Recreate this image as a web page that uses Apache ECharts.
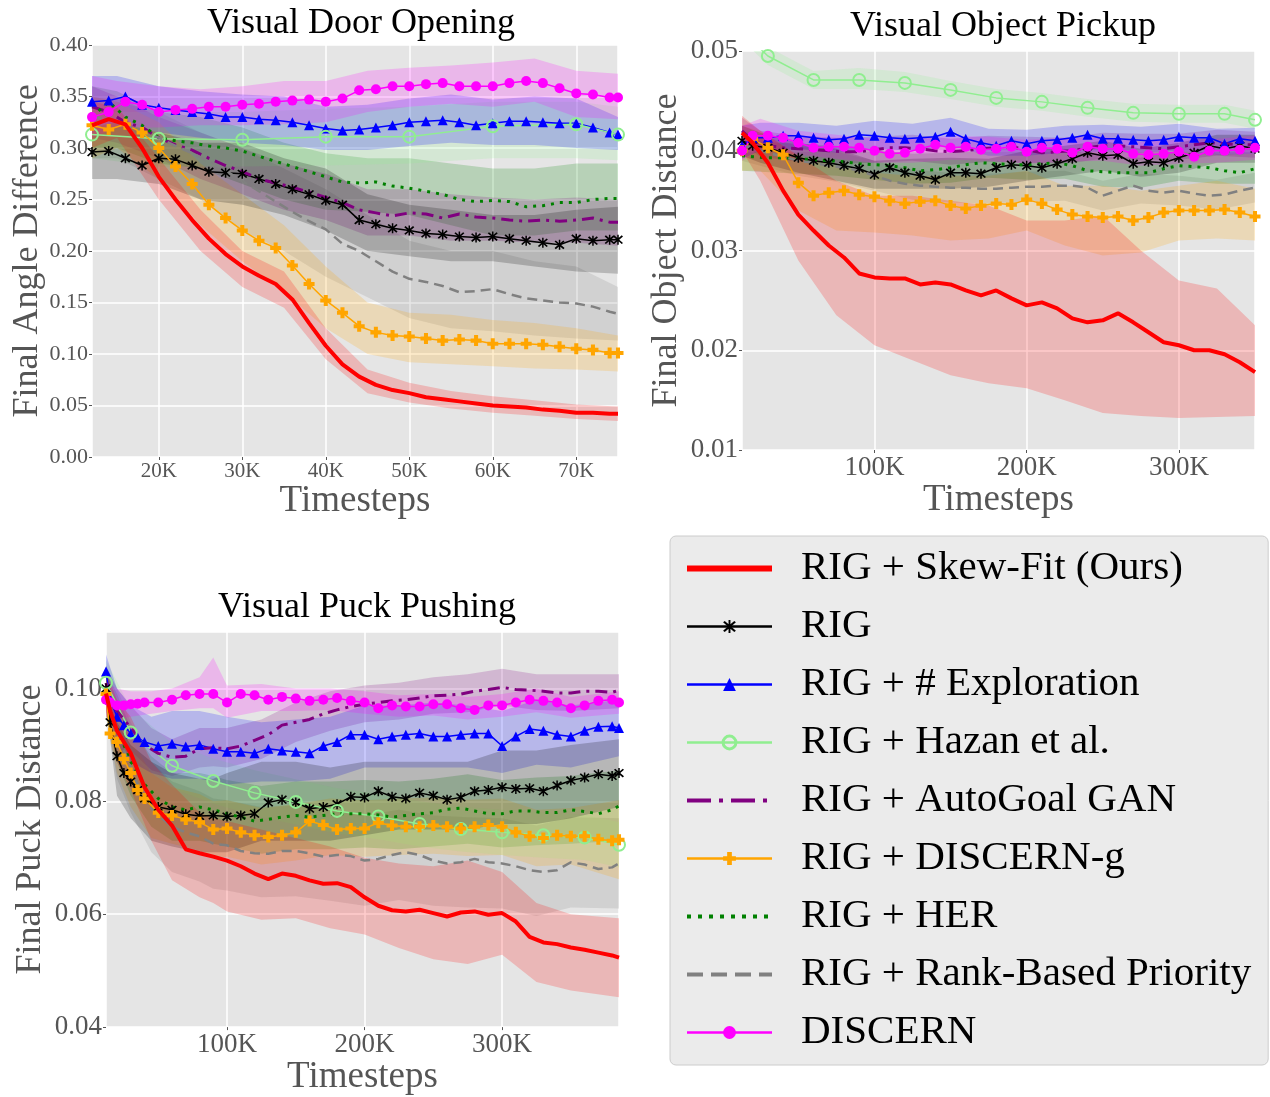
<!DOCTYPE html>
<html><head><meta charset="utf-8">
<script src="https://cdn.jsdelivr.net/npm/echarts@6/dist/echarts.min.js"></script>
<style>html,body{margin:0;padding:0;background:#fff}#c{width:1270px;height:1097px}</style>
</head><body><div id="c"></div><script>
// ---------- Visual Door Opening (x in thousands of timesteps) ----------
const doorX = [12,14,16,18,20,22,24,26,28,30,32,34,36,38,40,42,44,46,48,50,52,54,56,58,60,62,64,66,68,70,72,74,75];
const doorSkew = [0.322,0.328,0.323,0.300,0.272,0.250,0.230,0.212,0.197,0.185,0.176,0.168,0.153,0.130,0.108,0.090,0.078,0.070,0.065,0.062,0.058,0.056,0.054,0.052,0.050,0.049,0.048,0.046,0.045,0.043,0.043,0.042,0.042];
const doorRig = [0.296,0.297,0.290,0.283,0.290,0.289,0.283,0.277,0.276,0.275,0.270,0.265,0.260,0.255,0.249,0.245,0.230,0.226,0.222,0.220,0.217,0.216,0.214,0.213,0.214,0.212,0.210,0.208,0.206,0.212,0.210,0.211,0.211];
const doorExpl = [0.345,0.346,0.350,0.342,0.339,0.337,0.335,0.333,0.330,0.330,0.328,0.327,0.325,0.322,0.319,0.317,0.318,0.320,0.322,0.325,0.326,0.327,0.325,0.322,0.324,0.326,0.326,0.325,0.324,0.324,0.320,0.315,0.313];
const doorGan = [0.340,0.335,0.325,0.320,0.310,0.303,0.298,0.290,0.283,0.277,0.270,0.266,0.262,0.257,0.252,0.247,0.240,0.237,0.234,0.237,0.236,0.232,0.236,0.233,0.232,0.230,0.229,0.230,0.229,0.230,0.232,0.228,0.228];
const doorDg = [0.322,0.318,0.323,0.315,0.300,0.282,0.265,0.245,0.232,0.220,0.210,0.203,0.186,0.168,0.152,0.140,0.127,0.121,0.118,0.117,0.115,0.113,0.114,0.113,0.110,0.110,0.110,0.109,0.107,0.105,0.104,0.101,0.101];
const doorHer = [0.330,0.345,0.330,0.322,0.310,0.307,0.305,0.302,0.300,0.297,0.292,0.287,0.282,0.277,0.272,0.267,0.266,0.267,0.263,0.261,0.258,0.255,0.250,0.248,0.249,0.248,0.243,0.244,0.247,0.247,0.250,0.251,0.251];
const doorRank = [0.330,0.328,0.322,0.316,0.310,0.302,0.295,0.287,0.278,0.268,0.258,0.248,0.238,0.229,0.221,0.207,0.200,0.190,0.180,0.173,0.170,0.166,0.160,0.161,0.163,0.158,0.154,0.152,0.150,0.149,0.146,0.141,0.139];
const doorDiscern = [0.330,0.335,0.345,0.342,0.335,0.337,0.338,0.340,0.340,0.342,0.343,0.345,0.346,0.347,0.345,0.348,0.356,0.357,0.360,0.360,0.362,0.363,0.360,0.360,0.360,0.363,0.365,0.363,0.358,0.353,0.352,0.349,0.349];
const doorHazanX = [12,20,30,40,50,60,70,75];
const doorHazan = [0.313,0.309,0.308,0.311,0.311,0.321,0.323,0.313];
const doorHazanLo = [0.290,0.282,0.282,0.283,0.285,0.290,0.290,0.288];
const doorHazanHi = [0.335,0.335,0.335,0.338,0.340,0.345,0.345,0.340];
const doorBandX = [12,15,20,25,30,35,40,45,50,55,60,65,70,75];
const doorSkewLo = [0.300,0.310,0.250,0.200,0.165,0.145,0.095,0.062,0.053,0.047,0.043,0.040,0.037,0.035];
const doorSkewHi = [0.345,0.340,0.290,0.240,0.200,0.180,0.125,0.085,0.072,0.064,0.059,0.055,0.051,0.049];
const doorDgLo = [0.290,0.300,0.270,0.225,0.190,0.160,0.125,0.100,0.092,0.090,0.088,0.086,0.085,0.083];
const doorDgHi = [0.350,0.345,0.325,0.285,0.255,0.225,0.185,0.150,0.140,0.138,0.133,0.130,0.125,0.118];
const doorRigLo = [0.270,0.270,0.265,0.250,0.245,0.235,0.220,0.200,0.195,0.190,0.190,0.185,0.180,0.178];
const doorRigHi = [0.320,0.325,0.315,0.305,0.305,0.290,0.280,0.255,0.245,0.240,0.235,0.235,0.240,0.243];
const doorGanLo = [0.310,0.305,0.290,0.270,0.255,0.240,0.230,0.215,0.215,0.210,0.210,0.208,0.208,0.205];
const doorGanHi = [0.360,0.350,0.330,0.315,0.300,0.285,0.275,0.260,0.260,0.255,0.252,0.250,0.252,0.250];
const doorHerLo = [0.300,0.300,0.285,0.280,0.265,0.250,0.240,0.238,0.235,0.225,0.215,0.215,0.220,0.220];
const doorHerHi = [0.360,0.355,0.335,0.330,0.320,0.305,0.295,0.290,0.290,0.285,0.280,0.280,0.285,0.285];
const doorRankLo = [0.290,0.290,0.270,0.250,0.220,0.200,0.175,0.155,0.135,0.125,0.122,0.118,0.115,0.113];
const doorRankHi = [0.350,0.345,0.335,0.315,0.300,0.280,0.260,0.235,0.210,0.200,0.200,0.190,0.185,0.165];
const doorExplLo = [0.320,0.325,0.315,0.310,0.305,0.303,0.298,0.298,0.302,0.305,0.303,0.303,0.300,0.298];
const doorExplHi = [0.370,0.370,0.360,0.355,0.352,0.350,0.340,0.342,0.348,0.352,0.347,0.350,0.348,0.330];
const doorDiscernLo = [0.310,0.320,0.320,0.322,0.322,0.323,0.325,0.335,0.340,0.343,0.340,0.345,0.330,0.328];
const doorDiscernHi = [0.370,0.365,0.360,0.357,0.360,0.365,0.365,0.375,0.378,0.380,0.383,0.387,0.375,0.372];

// ---------- Visual Object Pickup ----------
const pickX = [13,20,30,40,50,60,70,80,90,100,110,120,130,140,150,160,170,180,190,200,210,220,230,240,250,260,270,280,290,300,310,320,330,340,350];
const pickSkew = [0.0418,0.0408,0.0388,0.0360,0.0336,0.0320,0.0305,0.0293,0.0277,0.0273,0.0272,0.0272,0.0266,0.0268,0.0266,0.0260,0.0255,0.0260,0.0252,0.0245,0.0248,0.0242,0.0232,0.0228,0.0230,0.0237,0.0228,0.0218,0.0208,0.0205,0.0200,0.0200,0.0196,0.0188,0.0178];
const pickRig = [0.0410,0.0405,0.0403,0.0398,0.0393,0.0390,0.0388,0.0385,0.0382,0.0376,0.0383,0.0378,0.0375,0.0371,0.0378,0.0378,0.0377,0.0383,0.0386,0.0385,0.0383,0.0387,0.0392,0.0398,0.0395,0.0396,0.0387,0.0389,0.0388,0.0393,0.0398,0.0405,0.0402,0.0405,0.0402];
const pickExpl = [0.0405,0.0413,0.0413,0.0415,0.0415,0.0413,0.0411,0.0412,0.0416,0.0415,0.0413,0.0412,0.0413,0.0414,0.0419,0.0412,0.0408,0.0405,0.0410,0.0407,0.0410,0.0411,0.0413,0.0416,0.0412,0.0412,0.0411,0.0410,0.0411,0.0414,0.0413,0.0413,0.0407,0.0412,0.0410];
const pickGan = [0.0420,0.0410,0.0405,0.0403,0.0402,0.0401,0.0400,0.0399,0.0399,0.0401,0.0403,0.0403,0.0402,0.0400,0.0399,0.0400,0.0402,0.0403,0.0404,0.0401,0.0398,0.0399,0.0400,0.0403,0.0405,0.0405,0.0404,0.0403,0.0402,0.0404,0.0406,0.0408,0.0407,0.0406,0.0406];
const pickDg = [0.0400,0.0412,0.0403,0.0396,0.0368,0.0355,0.0358,0.0360,0.0356,0.0354,0.0350,0.0347,0.0349,0.0350,0.0345,0.0342,0.0345,0.0347,0.0346,0.0351,0.0347,0.0341,0.0336,0.0334,0.0333,0.0334,0.0330,0.0333,0.0338,0.0340,0.0340,0.0340,0.0341,0.0338,0.0334];
const pickHer = [0.0395,0.0394,0.0393,0.0393,0.0392,0.0391,0.0390,0.0389,0.0387,0.0386,0.0385,0.0383,0.0380,0.0381,0.0383,0.0386,0.0388,0.0387,0.0386,0.0386,0.0387,0.0388,0.0385,0.0380,0.0379,0.0378,0.0378,0.0378,0.0382,0.0385,0.0384,0.0383,0.0380,0.0378,0.0382];
const pickRank = [0.0405,0.0403,0.0398,0.0394,0.0390,0.0388,0.0385,0.0383,0.0380,0.0375,0.0370,0.0367,0.0365,0.0364,0.0363,0.0363,0.0362,0.0362,0.0363,0.0364,0.0364,0.0365,0.0365,0.0363,0.0355,0.0360,0.0365,0.0360,0.0358,0.0360,0.0357,0.0355,0.0356,0.0360,0.0363];
const pickDiscern = [0.0400,0.0415,0.0415,0.0413,0.0408,0.0403,0.0404,0.0404,0.0403,0.0400,0.0397,0.0398,0.0402,0.0406,0.0403,0.0404,0.0401,0.0402,0.0404,0.0399,0.0403,0.0402,0.0398,0.0404,0.0402,0.0402,0.0397,0.0396,0.0397,0.0399,0.0394,0.0400,0.0400,0.0401,0.0403];
const pickHazanX = [13,30,60,90,120,150,180,210,240,270,300,330,350];
const pickHazan = [0.0520,0.0495,0.0471,0.0471,0.0468,0.0461,0.0453,0.0449,0.0443,0.0438,0.0437,0.0437,0.0431];
const pickHazanLo = [0.0511,0.0486,0.0462,0.0462,0.0459,0.0452,0.0444,0.0440,0.0434,0.0429,0.0428,0.0428,0.0422];
const pickHazanHi = [0.0529,0.0504,0.0480,0.0483,0.0479,0.0470,0.0462,0.0458,0.0452,0.0447,0.0446,0.0446,0.0440];
const pickBandX = [13,25,50,75,100,125,150,175,200,225,250,275,300,325,350];
const pickSkewLo = [0.0400,0.0370,0.0290,0.0235,0.0205,0.0190,0.0175,0.0167,0.0162,0.0150,0.0137,0.0134,0.0132,0.0133,0.0134];
const pickSkewHi = [0.0435,0.0420,0.0395,0.0370,0.0355,0.0355,0.0350,0.0345,0.0330,0.0330,0.0335,0.0300,0.0270,0.0262,0.0225];
const pickRigLo = [0.0395,0.0388,0.0378,0.0370,0.0362,0.0362,0.0362,0.0364,0.0370,0.0375,0.0380,0.0374,0.0378,0.0388,0.0388];
const pickRigHi = [0.0425,0.0418,0.0408,0.0402,0.0390,0.0392,0.0393,0.0392,0.0400,0.0405,0.0410,0.0402,0.0408,0.0416,0.0416];
const pickExplLo = [0.0392,0.0400,0.0402,0.0398,0.0402,0.0400,0.0405,0.0395,0.0395,0.0398,0.0399,0.0398,0.0400,0.0396,0.0397];
const pickExplHi = [0.0425,0.0428,0.0428,0.0425,0.0430,0.0427,0.0433,0.0422,0.0421,0.0425,0.0426,0.0424,0.0427,0.0422,0.0423];
const pickGanLo = [0.0407,0.0394,0.0389,0.0387,0.0388,0.0390,0.0386,0.0389,0.0388,0.0387,0.0392,0.0391,0.0391,0.0395,0.0393];
const pickGanHi = [0.0433,0.0420,0.0415,0.0413,0.0414,0.0416,0.0412,0.0415,0.0414,0.0413,0.0418,0.0417,0.0417,0.0421,0.0419];
const pickDgLo = [0.0380,0.0380,0.0340,0.0320,0.0318,0.0315,0.0310,0.0312,0.0320,0.0305,0.0295,0.0298,0.0310,0.0312,0.0310];
const pickDgHi = [0.0425,0.0420,0.0395,0.0385,0.0378,0.0375,0.0375,0.0375,0.0380,0.0365,0.0365,0.0360,0.0365,0.0370,0.0362];
const pickHerLo = [0.0380,0.0379,0.0377,0.0375,0.0371,0.0367,0.0368,0.0373,0.0371,0.0372,0.0364,0.0363,0.0370,0.0367,0.0367];
const pickHerHi = [0.0410,0.0409,0.0407,0.0405,0.0401,0.0397,0.0398,0.0403,0.0401,0.0402,0.0394,0.0393,0.0400,0.0397,0.0397];
const pickRankLo = [0.0390,0.0385,0.0375,0.0369,0.0360,0.0351,0.0348,0.0347,0.0349,0.0350,0.0340,0.0347,0.0345,0.0341,0.0348];
const pickRankHi = [0.0420,0.0415,0.0405,0.0399,0.0390,0.0381,0.0378,0.0377,0.0379,0.0380,0.0370,0.0377,0.0375,0.0371,0.0378];
const pickDiscernLo = [0.0390,0.0402,0.0396,0.0392,0.0388,0.0388,0.0391,0.0390,0.0387,0.0389,0.0390,0.0385,0.0387,0.0388,0.0391];
const pickDiscernHi = [0.0425,0.0432,0.0420,0.0416,0.0412,0.0412,0.0415,0.0414,0.0411,0.0413,0.0414,0.0409,0.0411,0.0412,0.0415];

// ---------- Visual Puck Pushing ----------
const puckX = [12,15,20,25,30,35,40,50,60,70,80,90,100,110,120,130,140,150,160,170,180,190,200,210,220,230,240,250,260,270,280,290,300,310,320,330,340,350,360,370,380,385];
const puckSkew = [0.0991,0.0960,0.0925,0.0905,0.0885,0.0855,0.0825, 0.0785,0.0757,0.0715,0.0708,0.0702,0.0695,0.0685,0.0672,0.0662,0.0672, 0.0668,0.0660,0.0654,0.0655,0.0648,0.0630,0.0615,0.0607,0.0605,0.0608, 0.0602,0.0596,0.0603,0.0605,0.0599,0.0602,0.0587,0.0560,0.0550,0.0547, 0.0541,0.0537,0.0532,0.0527, 0.0523];
const puckRig = [0.1000,0.0940,0.0880,0.0850,0.0835,0.0820,0.0805, 0.0790,0.0785,0.0777,0.0774,0.0775,0.0773,0.0775,0.0778,0.0798,0.0803, 0.0798,0.0787,0.0790,0.0795,0.0808,0.0807,0.0818,0.0808,0.0805,0.0815, 0.0810,0.0803,0.0807,0.0818,0.0820,0.0825,0.0822,0.0823,0.0818,0.0828, 0.0837,0.0842,0.0848,0.0845, 0.0850];
const puckExpl = [0.1030,0.0980,0.0950,0.0935,0.0920,0.0913,0.0905, 0.0898,0.0902,0.0897,0.0900,0.0893,0.0888,0.0888,0.0885,0.0893,0.0890, 0.0888,0.0885,0.0898,0.0905,0.0918,0.0918,0.0910,0.0915,0.0918,0.0920, 0.0915,0.0915,0.0918,0.0920,0.0920,0.0898,0.0915,0.0928,0.0925,0.0918, 0.0915,0.0925,0.0932,0.0933, 0.0930];
const puckGan = [0.1010,0.0980,0.0960,0.0945,0.0930,0.0915,0.0900, 0.0885,0.0878,0.0880,0.0893,0.0895,0.0893,0.0898,0.0908,0.0918,0.0935, 0.0940,0.0945,0.0955,0.0962,0.0968,0.0972,0.0975,0.0978,0.0980,0.0983, 0.0987,0.0988,0.0990,0.0995,0.0998,0.1002,0.0998,0.0997,0.0995,0.0992, 0.0992,0.0995,0.0995,0.0993, 0.0997];
const puckDg = [0.0990,0.0920,0.0905,0.0875,0.0850,0.0820,0.0805, 0.0780,0.0775,0.0768,0.0763,0.0750,0.0752,0.0745,0.0740,0.0737,0.0740, 0.0745,0.0765,0.0758,0.0750,0.0752,0.0752,0.0762,0.0757,0.0755,0.0755, 0.0757,0.0755,0.0752,0.0755,0.0758,0.0755,0.0745,0.0738,0.0735,0.0740, 0.0738,0.0738,0.0733,0.0730, 0.0732];
const puckHer = [0.0990,0.0960,0.0930,0.0900,0.0870,0.0850,0.0830, 0.0805,0.0790,0.0785,0.0790,0.0785,0.0778,0.0772,0.0765,0.0768,0.0772, 0.0775,0.0772,0.0775,0.0778,0.0778,0.0778,0.0776,0.0772,0.0775,0.0778, 0.0780,0.0786,0.0788,0.0783,0.0778,0.0778,0.0783,0.0783,0.0780,0.0780, 0.0785,0.0782,0.0778,0.0785, 0.0792];
const puckRank = [0.1000,0.0960,0.0920,0.0890,0.0860,0.0830,0.0800, 0.0775,0.0755,0.0745,0.0738,0.0725,0.0722,0.0712,0.0708,0.0707,0.0712, 0.0712,0.0708,0.0702,0.0705,0.0703,0.0695,0.0698,0.0705,0.0710,0.0705, 0.0695,0.0690,0.0692,0.0698,0.0692,0.0690,0.0685,0.0678,0.0675,0.0678, 0.0692,0.0688,0.0680,0.0683, 0.0690];
const puckDiscern = [0.0980,0.0975,0.0970,0.0970,0.0972,0.0973,0.0975, 0.0975,0.0980,0.0988,0.0990,0.0990,0.0975,0.0990,0.0988,0.0980,0.0985, 0.0982,0.0978,0.0980,0.0983,0.0978,0.0975,0.0965,0.0970,0.0968,0.0968, 0.0972,0.0972,0.0965,0.0962,0.0970,0.0970,0.0975,0.0980,0.0978,0.0975, 0.0965,0.0970,0.0978,0.0980, 0.0975];
const puckHazanX = [12,30,60,90,120,150,180,210,240,270,300,330,360,385];
const puckHazan = [0.1010,0.0922,0.0863,0.0836,0.0815,0.0799,0.0783,0.0773,0.0760,0.0751,0.0745,0.0740,0.0736,0.0723];
const puckHazanLo = [0.0970,0.0880,0.0823,0.0796,0.0775,0.0759,0.0743,0.0733,0.0720,0.0711,0.0705,0.0700,0.0696,0.0683];
const puckHazanHi = [0.1050,0.0965,0.0903,0.0876,0.0855,0.0839,0.0823,0.0813,0.0800,0.0791,0.0785,0.0780,0.0776,0.0763];
const puckBandX = [12,20,30,45,60,80,90,100,125,150,175,200,225,250,275,300,325,350,385];
const puckSkewLo = [0.096,0.087,0.082,0.073,0.066,0.063,0.062,0.0605,0.059,0.0593,0.0575,0.0564,0.054,0.052,0.0512,0.0528,0.048,0.0465,0.0453];
const puckSkewHi = [0.103,0.098,0.095,0.087,0.083,0.078,0.077,0.0765,0.075,0.0735,0.072,0.070,0.069,0.0685,0.0695,0.0675,0.062,0.060,0.0593];
const puckRigLo = [0.097,0.081,0.077,0.073,0.072,0.071,0.071,0.071,0.073,0.073,0.073,0.074,0.075,0.075,0.075,0.076,0.076,0.077,0.079];
const puckRigHi = [0.104,0.094,0.090,0.087,0.085,0.084,0.084,0.085,0.087,0.087,0.086,0.087,0.087,0.087,0.087,0.089,0.089,0.090,0.091];
const puckExplLo = [0.099,0.090,0.087,0.085,0.084,0.084,0.0835,0.083,0.0835,0.0835,0.084,0.086,0.086,0.086,0.086,0.085,0.0865,0.086,0.088];
const puckExplHi = [0.106,0.100,0.097,0.095,0.096,0.096,0.0955,0.095,0.094,0.0945,0.095,0.097,0.097,0.0975,0.097,0.096,0.098,0.097,0.098];
const puckGanLo = [0.098,0.092,0.089,0.0855,0.0845,0.086,0.0862,0.086,0.0875,0.0905,0.0925,0.094,0.0945,0.0955,0.0958,0.097,0.0962,0.096,0.0965];
const puckGanHi = [0.104,0.100,0.097,0.093,0.091,0.093,0.093,0.093,0.0945,0.0975,0.0995,0.1005,0.101,0.102,0.1025,0.1035,0.1025,0.1025,0.1025];
const puckDgLo = [0.095,0.085,0.079,0.0735,0.0725,0.0713,0.070,0.0702,0.0688,0.0695,0.0705,0.0702,0.0705,0.0707,0.0703,0.0705,0.0685,0.0688,0.0662];
const puckDgHi = [0.103,0.096,0.091,0.085,0.0825,0.0813,0.080,0.0802,0.0788,0.0795,0.0805,0.0802,0.0805,0.0807,0.0803,0.0805,0.0785,0.0788,0.0802];
const puckHerLo = [0.095,0.087,0.081,0.0755,0.073,0.073,0.0725,0.072,0.0707,0.0715,0.0715,0.0718,0.0715,0.072,0.0725,0.0718,0.0722,0.0725,0.073];
const puckHerHi = [0.103,0.099,0.093,0.088,0.085,0.085,0.0845,0.0838,0.0827,0.0835,0.0835,0.0838,0.0835,0.084,0.0848,0.0838,0.0842,0.0845,0.0855];
const puckRankLo = [0.096,0.084,0.078,0.071,0.0675,0.0658,0.0645,0.0642,0.063,0.0632,0.0624,0.0615,0.0625,0.0615,0.0612,0.061,0.0597,0.0612,0.061];
const puckRankHi = [0.104,0.100,0.094,0.087,0.0835,0.0818,0.0805,0.0802,0.079,0.0792,0.0784,0.0775,0.0785,0.0775,0.0772,0.077,0.0757,0.0772,0.077];
const puckDiscernLo = [0.095,0.0945,0.095,0.0955,0.096,0.0965,0.0965,0.0948,0.096,0.096,0.0962,0.0955,0.095,0.0952,0.0945,0.095,0.0958,0.0948,0.0955];
const puckDiscernHi = [0.101,0.100,0.0995,0.0995,0.100,0.102,0.1055,0.1005,0.1008,0.100,0.100,0.0995,0.0988,0.099,0.0985,0.099,0.100,0.0985,0.0995];

// ---------- styles ----------
const STAR = 'path://M-4,-3 L-3,-4 L0,-1 L3,-4 L4,-3 L1,0 L4,3 L3,4 L0,1 L-3,4 L-4,3 L-1,0 Z M-0.6,-4.6 L0.6,-4.6 L0.6,4.6 L-0.6,4.6 Z';
const PLUS = 'path://M-1.1,-3 L1.1,-3 L1.1,-1.1 L3,-1.1 L3,1.1 L1.1,1.1 L1.1,3 L-1.1,3 L-1.1,1.1 L-3,1.1 L-3,-1.1 L-1.1,-1.1 Z';
const STY = {
  skew:   {name:'RIG + Skew-Fit (Ours)', color:'#ff0000', rgb:'255,0,0', width:4, symbol:'none', lg:{width:6}},
  rig:    {name:'RIG', color:'#000000', rgb:'0,0,0', width:1.5, symbol:STAR, size:10, lg:{width:2.5}},
  expl:   {name:'RIG + # Exploration', color:'#0000ff', rgb:'0,0,255', width:1.5, symbol:'triangle', size:10, lg:{width:2.5}},
  hazan:  {name:'RIG + Hazan et al.', color:'#90ee90', rgb:'144,238,144', width:1.5, symbol:'circle', size:12, hollow:true, lg:{width:2.5}},
  gan:    {name:'RIG + AutoGoal GAN', color:'#800080', rgb:'128,0,128', width:3, symbol:'none', dash:[12,6,3,6], lg:{width:4, type:[24,8,4,8]}},
  dg:     {name:'RIG + DISCERN-g', color:'#ffa500', rgb:'255,165,0', width:1.5, symbol:PLUS, size:11, lg:{width:2.5}},
  her:    {name:'RIG + HER', color:'#008000', rgb:'0,128,0', width:3, symbol:'none', dash:[3,6], lg:{width:4, type:[4,7]}},
  rank:   {name:'RIG + Rank-Based Priority', color:'#808080', rgb:'128,128,128', width:2.5, symbol:'none', dash:[10,6], lg:{width:4, type:[16,8]}},
  discern:{name:'DISCERN', color:'#ff00ff', rgb:'255,0,255', width:1.5, symbol:'circle', size:10, lg:{width:2.5}}
};
const LEGEND_ORDER = ['skew','rig','expl','hazan','gan','dg','her','rank','discern'];
const FONT = 'Liberation Serif';

function line(gi, key, xs, ys) {
  const s = STY[key];
  return {
    type:'line', name:s.name, xAxisIndex:gi, yAxisIndex:gi,
    data: xs.map((x,i)=>[x*1000, ys[i]]),
    symbol: s.symbol, symbolSize: s.size || 0, showSymbol: s.symbol !== 'none',
    lineStyle:{color:s.color, width:s.width, type:s.dash || 'solid'},
    itemStyle: s.hollow ? {color:'rgba(255,255,255,0)', borderColor:s.color, borderWidth:2} : {color:s.color},
    z: key === 'skew' ? 5 : 4, silent:true, emphasis:{disabled:true}
  };
}
// shaded band (lo..hi) drawn as one polygon through the axis scales
function band(gi, key, xs, lo, hi) {
  const s = STY[key];
  const data = xs.map((x,i)=>[x*1000, lo[i], hi[i]]);
  return {
    type:'custom', name:'band', xAxisIndex:gi, yAxisIndex:gi, z:1, silent:true,
    encode:{x:0, y:[1,2]}, data:data,
    renderItem:(params, api) => {
      if (params.dataIndex !== 0) return null;
      const top = data.map(d=>api.coord([d[0], d[2]]));
      const bot = data.map(d=>api.coord([d[0], d[1]])).reverse();
      const cs = params.coordSys;
      return {type:'group', clipPath:{type:'rect', shape:{x:cs.x, y:cs.y, width:cs.width, height:cs.height}},
        children:[{type:'polygon', shape:{points: top.concat(bot)}, style:{fill:'rgba('+s.rgb+',0.2)'}}]};
    }
  };
}

const series = [];
const BANDS = [
  [0, doorBandX, {rank:[doorRankLo,doorRankHi], her:[doorHerLo,doorHerHi], gan:[doorGanLo,doorGanHi], dg:[doorDgLo,doorDgHi], expl:[doorExplLo,doorExplHi], rig:[doorRigLo,doorRigHi], discern:[doorDiscernLo,doorDiscernHi], skew:[doorSkewLo,doorSkewHi]}, doorHazanX, [doorHazanLo,doorHazanHi]],
  [1, pickBandX, {rank:[pickRankLo,pickRankHi], her:[pickHerLo,pickHerHi], gan:[pickGanLo,pickGanHi], dg:[pickDgLo,pickDgHi], expl:[pickExplLo,pickExplHi], rig:[pickRigLo,pickRigHi], discern:[pickDiscernLo,pickDiscernHi], skew:[pickSkewLo,pickSkewHi]}, pickHazanX, [pickHazanLo,pickHazanHi]],
  [2, puckBandX, {rank:[puckRankLo,puckRankHi], her:[puckHerLo,puckHerHi], gan:[puckGanLo,puckGanHi], dg:[puckDgLo,puckDgHi], expl:[puckExplLo,puckExplHi], rig:[puckRigLo,puckRigHi], discern:[puckDiscernLo,puckDiscernHi], skew:[puckSkewLo,puckSkewHi]}, puckHazanX, [puckHazanLo,puckHazanHi]]
];
BANDS.forEach(([gi, bx, b, hx, hb]) => {
  ['rank','her','gan'].forEach(k=>series.push(band(gi,k,bx,b[k][0],b[k][1])));
  series.push(band(gi,'hazan',hx,hb[0],hb[1]));
  ['dg','expl','rig','discern','skew'].forEach(k=>series.push(band(gi,k,bx,b[k][0],b[k][1])));
});
series.push(line(0,'skew',doorX,doorSkew), line(0,'rig',doorX,doorRig), line(0,'expl',doorX,doorExpl),
  line(0,'hazan',doorHazanX,doorHazan), line(0,'gan',doorX,doorGan), line(0,'dg',doorX,doorDg),
  line(0,'her',doorX,doorHer), line(0,'rank',doorX,doorRank), line(0,'discern',doorX,doorDiscern));
series.push(line(1,'skew',pickX,pickSkew), line(1,'rig',pickX,pickRig), line(1,'expl',pickX,pickExpl),
  line(1,'hazan',pickHazanX,pickHazan), line(1,'gan',pickX,pickGan), line(1,'dg',pickX,pickDg),
  line(1,'her',pickX,pickHer), line(1,'rank',pickX,pickRank), line(1,'discern',pickX,pickDiscern));
series.push(line(2,'skew',puckX,puckSkew), line(2,'rig',puckX,puckRig), line(2,'expl',puckX,puckExpl),
  line(2,'hazan',puckHazanX,puckHazan), line(2,'gan',puckX,puckGan), line(2,'dg',puckX,puckDg),
  line(2,'her',puckX,puckHer), line(2,'rank',puckX,puckRank), line(2,'discern',puckX,puckDiscern));

function xAx(gi, min, max, split, fs, gap) {
  return {gridIndex:gi, type:'value', min:min, max:max, splitNumber:split,
    axisLine:{show:false}, axisTick:{show:true, length:3, lineStyle:{color:'#555'}},
    axisLabel:{showMinLabel:false, showMaxLabel:false, formatter:v=>(v/1000)+'K', fontFamily:FONT, fontSize:fs, color:'#555', margin:4},
    splitLine:{show:true, lineStyle:{color:'#ffffff', width:1.5}},
    name:'Timesteps', nameLocation:'middle', nameGap:gap, nameTextStyle:{fontFamily:FONT, fontSize:37, color:'#555'}};
}
function yAx(gi, min, max, interval, fs, name, gap, hideMax) {
  return {gridIndex:gi, type:'value', min:min, max:max, interval:interval,
    axisLine:{show:false}, axisTick:{show:true, length:3, lineStyle:{color:'#555'}},
    axisLabel:{showMaxLabel:!hideMax, formatter:v=>v.toFixed(2), fontFamily:FONT, fontSize:fs, color:'#555', margin:4},
    splitLine:{show:true, lineStyle:{color:'#ffffff', width:1.5}},
    name:name, nameLocation:'middle', nameGap:gap, nameTextStyle:{fontFamily:FONT, fontSize:36, color:'#555'}};
}
const gridCommon = {show:true, backgroundColor:'#e5e5e5', borderWidth:0, containLabel:false};
const titleStyle = {fontFamily:FONT, fontSize:36, fontWeight:'normal', color:'#000'};

const option = {
  animation:false,
  backgroundColor:'#ffffff',
  title:[
    {text:'Visual Door Opening', left:356, top:1, textAlign:'center', textStyle:titleStyle},
    {text:'Visual Object Pickup', left:998, top:4, textAlign:'center', textStyle:titleStyle},
    {text:'Visual Puck Pushing', left:362, top:585, textAlign:'center', textStyle:titleStyle}
  ],
  grid:[
    Object.assign({left:92, top:45, right:652, bottom:640}, gridCommon),
    Object.assign({left:742, top:51, right:15, bottom:647}, gridCommon),
    Object.assign({left:106, top:632, right:651, bottom:67}, gridCommon)
  ],
  xAxis:[ xAx(0,12000,75000,6,21,16), xAx(1,13000,350000,3,27,21), xAx(2,12000,385000,4,27,26) ],
  yAxis:[
    yAx(0,0,0.4,0.05,22,'Final Angle Difference',46,false),
    yAx(1,0.01,0.05,0.01,27,'Final Object Distance',57,false),
    yAx(2,0.04,0.11,0.02,27,'Final Puck Distance',57,true)
  ],
  legend:{
    orient:'vertical', left:670, top:536,
    data: LEGEND_ORDER.map(k=>{
      const s = STY[k];
      const item = {name:s.name, lineStyle:Object.assign({}, s.lg)};
      if (s.symbol === 'none') item.itemStyle = {opacity:0};
      if (s.hollow) item.itemStyle = {borderWidth:3};
      return item;
    }),
    backgroundColor:'#ebebeb', borderColor:'#cccccc', borderWidth:1, borderRadius:6,
    padding:[12,17,12,14], itemWidth:85, itemHeight:16, itemGap:17,
    selectedMode:false,
    textStyle:{fontFamily:FONT, fontSize:41, color:'#000', padding:[0,0,0,24], lineHeight:40}
  },
  series: series
};
const chart = echarts.init(document.getElementById('c'), null, {renderer:'canvas'});
chart.setOption(option);
</script></body></html>
